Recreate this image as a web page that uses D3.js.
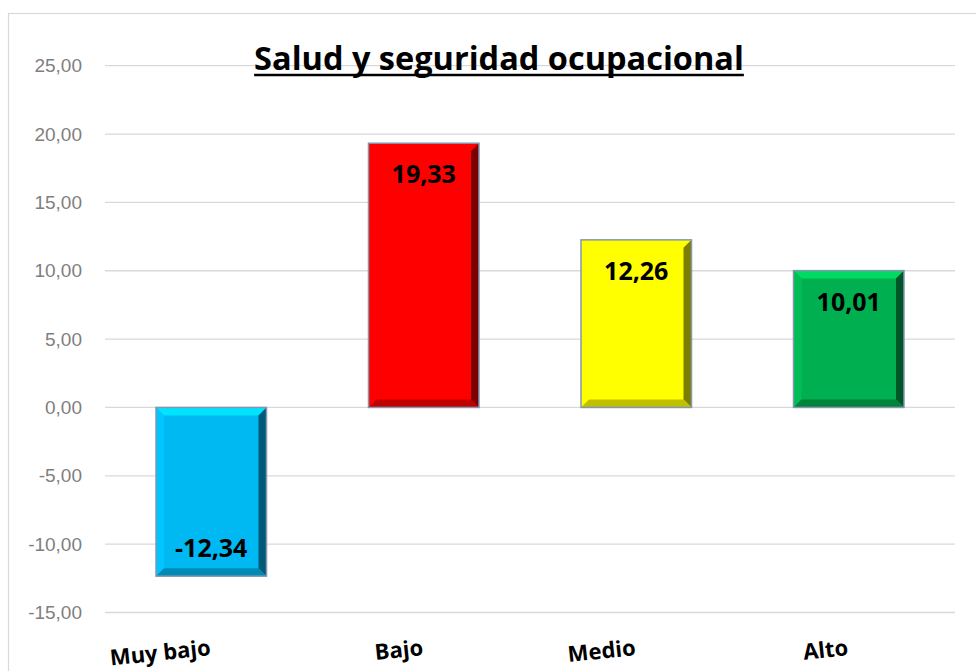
<!DOCTYPE html>
<html>
<head>
<meta charset="utf-8">
<script src="https://cdn.jsdelivr.net/npm/d3@7"></script>
<style>
  body { margin: 0; background: #fff; }
  svg { display: block; font-family: "Open Sans", "Noto Sans", sans-serif; }
</style>
</head>
<body>
<div id="chart"></div>
<script>
// data
const categories = ["Muy bajo", "Bajo", "Medio", "Alto"];
const values = [-12.34, 19.33, 12.26, 10.01];
const barColors = ["#00B8F2", "#FF0000", "#FFFF00", "#00B050"];
const yTicks = [-15, -10, -5, 0, 5, 10, 15, 20, 25];
const title = "Salud y seguridad ocupacional";

const width = 976, height = 671;
const plot = { left: 105, right: 955, top: 65.7, bottom: 612.5 };

const svg = d3.select("#chart").append("svg")
  .attr("width", width)
  .attr("height", height);

// chart border
svg.append("rect")
  .attr("x", 8.5).attr("y", 13.5)
  .attr("width", 1000).attr("height", 700)
  .attr("fill", "none")
  .attr("stroke", "#d9d9d9")
  .attr("stroke-width", 1.2);

const x = d3.scaleBand()
  .domain(categories)
  .range([plot.left, plot.right])
  .paddingInner(0.48)
  .paddingOuter(0.24);

const y = d3.scaleLinear()
  .domain([-15, 25])
  .range([plot.bottom, plot.top]);

const fmt = v => d3.format(".2f")(v).replace("−", "-").replace(".", ",");

// gridlines
svg.append("g")
  .selectAll("line")
  .data(yTicks)
  .join("line")
  .attr("x1", plot.left).attr("x2", plot.right)
  .attr("y1", d => y(d)).attr("y2", d => y(d))
  .attr("stroke", "#d9d9d9")
  .attr("stroke-width", 1.3);

// y axis labels
const yAxis = svg.append("g")
  .attr("transform", `translate(${plot.left - 23},0)`)
  .call(d3.axisLeft(y).tickValues(yTicks).tickFormat(fmt).tickSize(0).tickPadding(0));
yAxis.select(".domain").remove();
yAxis.selectAll("text")
  .attr("fill", "#7f7f7f")
  .style("font-size", "19px");

// bars with a bevel look
const bev = 8;
const bars = svg.append("g").selectAll("g")
  .data(categories.map((c, i) => ({ c, v: values[i], col: barColors[i] })))
  .join("g");

bars.each(function (d) {
  const g = d3.select(this);
  const x0 = x(d.c), x1 = x0 + x.bandwidth();
  const yTop = y(Math.max(0, d.v)), yBot = y(Math.min(0, d.v));
  const base = d3.color(d.col);
  g.append("rect")
    .attr("x", x0).attr("y", yTop)
    .attr("width", x1 - x0).attr("height", yBot - yTop)
    .attr("fill", d.col);
  // top (lighter)
  g.append("polygon")
    .attr("points", [[x0, yTop], [x1, yTop], [x1 - bev, yTop + bev], [x0 + bev, yTop + bev]].join(" "))
    .attr("fill", base.brighter(0.6));
  // left (slightly lighter)
  g.append("polygon")
    .attr("points", [[x0, yTop], [x0 + bev, yTop + bev], [x0 + bev, yBot - bev], [x0, yBot]].join(" "))
    .attr("fill", base.brighter(0.2));
  // right (dark)
  g.append("polygon")
    .attr("points", [[x1, yTop], [x1, yBot], [x1 - bev, yBot - bev], [x1 - bev, yTop + bev]].join(" "))
    .attr("fill", base.darker(2));
  // bottom (darker)
  g.append("polygon")
    .attr("points", [[x0, yBot], [x1, yBot], [x1 - bev, yBot - bev], [x0 + bev, yBot - bev]].join(" "))
    .attr("fill", base.darker(0.8));
  // thin outline
  g.append("rect")
    .attr("x", x0).attr("y", yTop)
    .attr("width", x1 - x0).attr("height", yBot - yTop)
    .attr("fill", "none")
    .attr("stroke", "#8496b0")
    .attr("stroke-width", 1.5);
});

// value labels, inside end
svg.append("g").selectAll("text")
  .data(categories.map((c, i) => ({ c, v: values[i] })))
  .join("text")
  .attr("x", d => x(d.c) + x.bandwidth() / 2)
  .attr("y", d => d.v >= 0 ? y(d.v) + 40 : y(d.v) - 19)
  .attr("text-anchor", "middle")
  .attr("fill", "#000")
  .style("font-size", "25px")
  .style("font-weight", "bold")
  .text(d => fmt(d.v));

// category labels, slightly rotated
svg.append("g").selectAll("text")
  .data(categories)
  .join("text")
  .attr("transform", d => `translate(${x(d) + x.bandwidth() / 2},${655}) rotate(-6)`)
  .attr("text-anchor", "end")
  .attr("fill", "#000")
  .style("font-size", "22px")
  .style("font-weight", "bold")
  .text(d => d);

// title
const t = svg.append("text")
  .attr("x", 499).attr("y", 70)
  .attr("text-anchor", "middle")
  .attr("fill", "#000")
  .style("font-size", "32.5px")
  .style("font-weight", "bold")
  .text(title);
const bb = t.node().getBBox();
svg.append("line")
  .attr("x1", bb.x).attr("x2", bb.x + bb.width)
  .attr("y1", 75).attr("y2", 75)
  .attr("stroke", "#000")
  .attr("stroke-width", 2.5);
</script>
</body>
</html>
